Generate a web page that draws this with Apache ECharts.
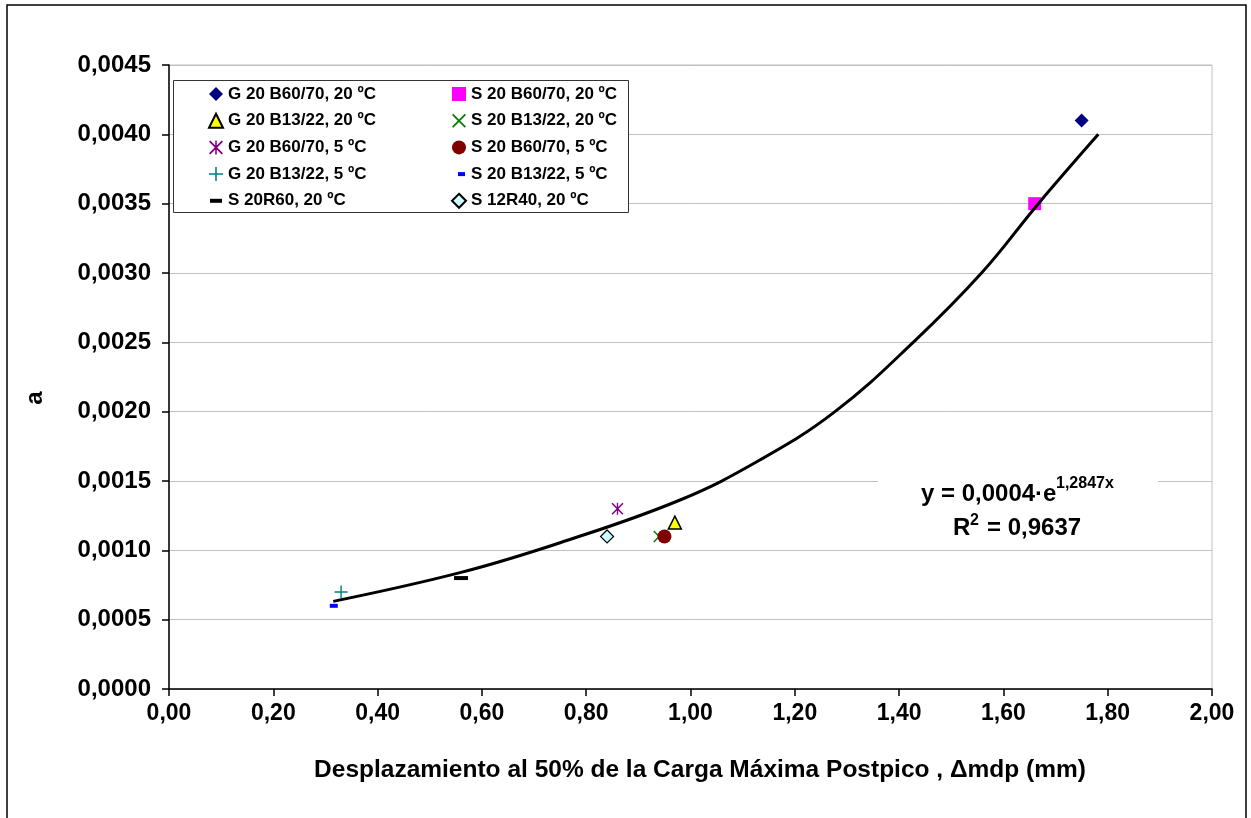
<!DOCTYPE html>
<html>
<head>
<meta charset="utf-8">
<script src="https://cdn.jsdelivr.net/npm/echarts@6/dist/echarts.min.js"></script>
<style>
html,body{margin:0;padding:0;background:#fff;}
#c{width:1251px;height:818px;}
</style>
</head>
<body>
<div id="c"></div>
<script>
// ---- data ----
const seriesNames = [
  'G 20 B60/70, 20 ºC', 'S 20 B60/70, 20 ºC',
  'G 20 B13/22, 20 ºC', 'S 20 B13/22, 20 ºC',
  'G 20 B60/70, 5 ºC',  'S 20 B60/70, 5 ºC',
  'G 20 B13/22, 5 ºC',  'S 20 B13/22, 5 ºC',
  'S 20R60, 20 ºC',     'S 12R40, 20 ºC'
];
const xValues = [1.75, 1.66, 0.97, 0.94, 0.86, 0.95, 0.33, 0.316, 0.56, 0.84];
const yValues = [0.0041, 0.0035, 0.0012, 0.0011, 0.0013, 0.0011, 0.0007, 0.0006, 0.0008, 0.0011];
// trend line points
const trendX = [0.315, 0.558, 0.75, 0.98, 1.133, 1.277, 1.427, 1.558, 1.667, 1.782];
const trendY = [0.000632, 0.000839, 0.001055, 0.001363, 0.001651, 0.0020, 0.0025, 0.0030, 0.0035, 0.0040];
const xTicks = {min: 0, max: 2, interval: 0.2};
const yTicks = {min: 0, max: 0.0045, interval: 0.0005};
const xTitle = 'Desplazamiento al 50% de la Carga Máxima Postpico , Δmdp (mm)';
const yTitle = 'a';
const eqMain = 'y = 0,0004·e';
const eqSup = '1,2847x';
const r2Main = 'R';
const r2Sup = '2';
const r2Rest = '= 0,9637';

// ---- styles ----
const FONT = '"Liberation Sans", Arial, sans-serif';
const PATH_X = 'path://M0 0.9L0.9 0L10 9.1L9.1 10Z M9.1 0L10 0.9L0.9 10L0 9.1Z';
const PATH_STAR = 'path://M0 0.9L0.9 0L10 9.1L9.1 10Z M9.1 0L10 0.9L0.9 10L0 9.1Z M4.45 0H5.55V10H4.45Z';
const PATH_PLUS = 'path://M4.45 0H5.55V10H4.45Z M0 4.45H10V5.55H0Z';
const PATH_DASH = 'path://M1 5H13V9H1Z M0 0 M14 14';
const PATH_DASH_S = 'path://M6 5H13V9H6Z M0 0 M14 14';
const markers = [
  {symbol: 'diamond', size: 14, style: {color: '#000080'}},
  {symbol: 'rect', size: 13, style: {color: '#FF00FF'}},
  {symbol: 'triangle', size: 13, style: {color: '#FFFF00', borderColor: '#000', borderWidth: 1.5}},
  {symbol: PATH_X, size: 12, style: {color: '#008000'}},
  {symbol: PATH_STAR, size: 12, style: {color: '#800080'}},
  {symbol: 'circle', size: 14, style: {color: '#800000'}},
  {symbol: PATH_PLUS, size: 13, style: {color: '#008080'}},
  {symbol: 'rect', size: [8, 4], style: {color: '#0000FF'}, icon: PATH_DASH_S},
  {symbol: 'rect', size: [14, 4], style: {color: '#000000'}, icon: PATH_DASH},
  {symbol: 'diamond', size: 13, style: {color: '#CCFFFF', borderColor: '#000', borderWidth: 1.2}}
];

const series = seriesNames.map((n, i) => ({
  name: n,
  type: 'scatter',
  symbol: markers[i].symbol,
  symbolSize: markers[i].size,
  itemStyle: Object.assign({opacity: 1}, markers[i].style),
  data: [[xValues[i], yValues[i]]],
  z: 3
}));
series.push({
  name: 'trend',
  type: 'line',
  data: trendX.map((x, i) => [x, trendY[i]]),
  smooth: 0.4,
  showSymbol: false,
  symbol: 'none',
  lineStyle: {color: '#000', width: 3},
  z: 5,
  silent: true
});

function legendItems(idx) {
  return idx.map(i => {
    const o = {name: seriesNames[i]};
    if (markers[i].icon) o.icon = markers[i].icon;
    return o;
  });
}
const legendText = {fontFamily: FONT, fontWeight: 'bold', fontSize: 17, color: '#000', lineHeight: 20};

const chart = echarts.init(document.getElementById('c'), null, {renderer: 'canvas'});
chart.setOption({
  animation: false,
  backgroundColor: '#fff',
  grid: {left: 169, top: 65, right: 39, bottom: 129, show: true, borderColor: '#C0C0C0', borderWidth: 1, backgroundColor: '#fff'},
  xAxis: {
    type: 'value', min: xTicks.min, max: xTicks.max, interval: xTicks.interval,
    axisLine: {show: true, onZero: false, lineStyle: {color: '#000', width: 1.5}},
    axisTick: {show: true, length: 7, lineStyle: {color: '#000', width: 1.5}},
    axisLabel: {margin: 13, fontFamily: FONT, fontWeight: 'bold', fontSize: 23, color: '#000',
      formatter: v => v.toFixed(2).replace('.', ',')},
    splitLine: {show: false},
    name: xTitle, nameLocation: 'middle', nameGap: 69,
    nameTextStyle: {fontFamily: FONT, fontWeight: 'bold', fontSize: 24.5, color: '#000', padding: [0, 0, 0, 19]}
  },
  yAxis: {
    type: 'value', min: yTicks.min, max: yTicks.max, interval: yTicks.interval,
    axisLine: {show: true, onZero: false, lineStyle: {color: '#000', width: 1.5}},
    axisTick: {show: true, length: 7, lineStyle: {color: '#000', width: 1.5}},
    axisLabel: {margin: 18, fontFamily: FONT, fontWeight: 'bold', fontSize: 24, color: '#000',
      formatter: v => v.toFixed(4).replace('.', ',')},
    splitLine: {show: true, lineStyle: {color: '#C0C0C0', width: 1}}
  },
  legend: [
    {orient: 'vertical', left: 208, top: 84, padding: 0, itemGap: 6.7, itemWidth: 14, itemHeight: 14,
     textStyle: legendText, data: legendItems([0, 2, 4, 6, 8]), selectedMode: false, z: 6},
    {orient: 'vertical', left: 451, top: 84, padding: 0, itemGap: 6.7, itemWidth: 14, itemHeight: 14,
     textStyle: legendText, data: legendItems([1, 3, 5, 7, 9]), selectedMode: false, z: 6}
  ],
  series: series,
  graphic: [
    {type: 'rect', z: 0, shape: {x: 7, y: 5, width: 1239, height: 860}, style: {fill: 'none', stroke: '#000', lineWidth: 1.5}, silent: true},
    {type: 'rect', z: 4, shape: {x: 173.5, y: 80.5, width: 455, height: 132}, style: {fill: '#fff', stroke: '#333', lineWidth: 1}, silent: true},
    {type: 'rect', z: 4, shape: {x: 878, y: 470, width: 280, height: 76}, style: {fill: '#fff', stroke: 'none'}, silent: true},
    {type: 'text', z: 6, x: 921, y: 494, style: {text: eqMain, font: 'bold 24px ' + FONT, fill: '#000', textAlign: 'left', textVerticalAlign: 'middle'}},
    {type: 'text', z: 6, x: 1056, y: 484, style: {text: eqSup, font: 'bold 16px ' + FONT, fill: '#000', textAlign: 'left', textVerticalAlign: 'middle'}},
    {type: 'text', z: 6, x: 953, y: 528, style: {text: r2Main, font: 'bold 24px ' + FONT, fill: '#000', textAlign: 'left', textVerticalAlign: 'middle'}},
    {type: 'text', z: 6, x: 970, y: 521, style: {text: r2Sup, font: 'bold 16px ' + FONT, fill: '#000', textAlign: 'left', textVerticalAlign: 'middle'}},
    {type: 'text', z: 6, x: 987, y: 528, style: {text: r2Rest, font: 'bold 24px ' + FONT, fill: '#000', textAlign: 'left', textVerticalAlign: 'middle'}},
    {type: 'text', z: 6, x: 35, y: 398, rotation: Math.PI / 2, style: {text: yTitle, font: 'bold 24px ' + FONT, fill: '#000', textAlign: 'center', textVerticalAlign: 'middle'}}
  ]
});
</script>
</body>
</html>
